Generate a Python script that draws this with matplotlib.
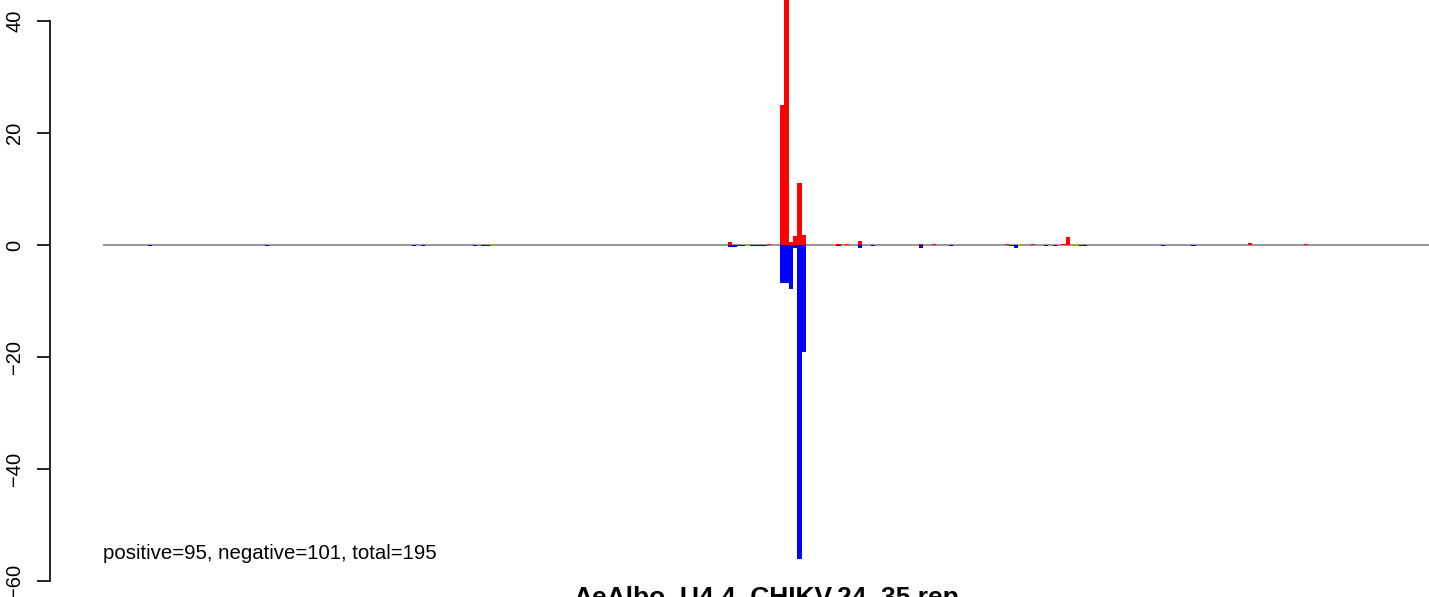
import matplotlib
matplotlib.use('Agg')
import matplotlib.pyplot as plt

# Dados: posição da barra (índice) e valores positivos / negativos
pos_idx = [144, 153, 156, 157, 158, 159, 160, 161, 169, 171, 174, 188, 191,
           208, 214, 221, 222, 264, 277]
pos_val = [0.6, 0.2, 25, 70, 0.5, 1.6, 11, 1.8, 0.2, 0.2, 0.7, 0.2, 0.2,
           0.2, 0.2, 0.2, 1.4, 0.3, 0.2]

neg_idx = [10, 37, 71, 73, 85, 87, 88, 144, 145, 146, 147, 149, 150, 151, 152,
           156, 157, 158, 159, 160, 161, 169, 174, 177, 188, 195, 209, 210,
           217, 219, 225, 226, 244, 251]
neg_val = [-0.2, -0.2, -0.2, -0.2, -0.2, -0.2, -0.2, -0.3, -0.3, -0.2, -0.2,
           -0.2, -0.2, -0.2, -0.2, -6.7, -6.7, -7.8, -0.5, -56, -19.1, -0.2,
           -0.5, -0.2, -0.5, -0.2, -0.2, -0.5, -0.2, -0.2, -0.2, -0.2, -0.2,
           -0.2]

y_ticks = [-60, -40, -20, 0, 20, 40]
resumo = 'positive=95, negative=101, total=195'
titulo = 'AeAlbo_U4.4_CHIKV.24_35.rep'

plt.rcParams['font.family'] = ['Liberation Sans', 'DejaVu Sans']

fig = plt.figure(figsize=(14.29, 5.97), dpi=100)
ax = fig.add_axes([50 / 1429, 0, 1 - 50 / 1429, 1])

# Linha do zero (cinza) atrás das barras
ax.hlines(0, -0.35, 306, color='#999999', linewidth=1.5, zorder=1)

ax.bar(pos_idx, pos_val, width=1, align='edge', color='red', linewidth=0, zorder=2)
ax.bar(neg_idx, neg_val, width=1, align='edge', color='blue', linewidth=0, zorder=2)

ax.set_xlim(-12.59, 305.9)
ax.set_ylim(-62.857, 43.75)

# Eixo Y estilo R
for s in ['top', 'right', 'bottom']:
    ax.spines[s].set_visible(False)
ax.spines['left'].set_bounds(-60, 40)
ax.spines['left'].set_linewidth(1.2)
ax.set_xticks([])
ax.set_yticks(y_ticks)
ax.set_yticklabels([str(t).replace('-', '\u2212') for t in y_ticks], rotation=90, va='center')
ax.tick_params(axis='y', length=9.4, width=1.2, pad=9, labelsize=14.5)
ax.patch.set_visible(False)

ax.text(-0.35, -55, resumo, fontsize=14.7, ha='left', va='center')
ax.text(152.8, -60.9, titulo, fontsize=19, fontweight='bold', ha='center', va='top',
        clip_on=False)

plt.savefig('out.png', dpi=100)
